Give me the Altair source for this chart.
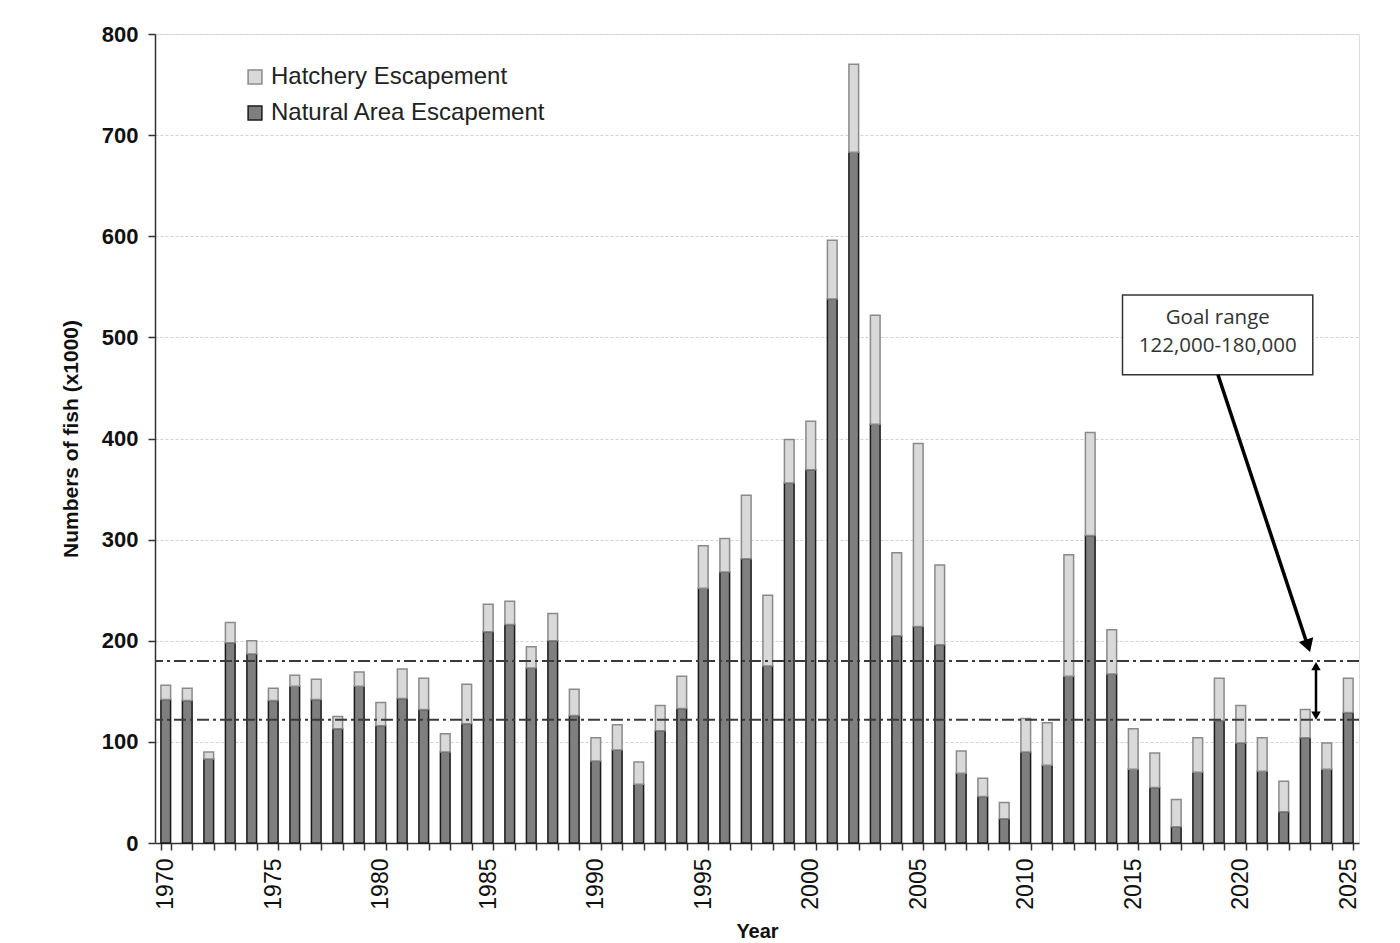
import altair as alt
import pandas as pd

years = list(range(1970, 2026))
natural = [142, 141, 83, 198, 187, 141, 155, 142, 113, 155,
           116, 143, 132, 90, 118, 209, 216, 173, 200, 126,
           81, 92, 58, 111, 133, 252, 268, 281, 175, 356,
           369, 538, 683, 414, 205, 214, 196, 69, 46, 24,
           90, 77, 165, 304, 167, 73, 55, 16, 70, 121,
           99, 71, 31, 104, 73, 129]
total = [156, 153, 90, 218, 200, 153, 166, 162, 125, 169,
         139, 172, 163, 108, 157, 236, 239, 194, 227, 152,
         104, 117, 80, 136, 165, 294, 301, 344, 245, 399,
         417, 596, 770, 522, 287, 395, 275, 91, 64, 40,
         123, 119, 285, 406, 211, 113, 89, 43, 104, 163,
         136, 104, 61, 132, 99, 163]
series_names = ["Hatchery Escapement", "Natural Area Escapement"]
goal_values = [122, 180]
goal_text = ["Goal range", "122,000-180,000"]

rows = []
for y, n, t in zip(years, natural, total):
    rows.append({"year": y, "series": series_names[1], "start": 0, "end": n})
    rows.append({"year": y, "series": series_names[0], "start": n, "end": t})
df = pd.DataFrame(rows)

FONT = "Liberation Sans"
ydom = [0, 800]
xq = alt.Scale(domain=[1969.5, 2025.5], nice=False, zero=False)
yscale = alt.Scale(domain=ydom, nice=False)

legend = alt.Legend(
    title=None, orient="none", legendX=88, legendY=31,
    symbolType="square", symbolSize=190, symbolStrokeWidth=1.5,
    labelFontSize=24, labelFont=FONT, labelColor="#222", labelOffset=4,
    labelLimit=0, rowPadding=12,
)

bars = alt.Chart(df).mark_bar(strokeWidth=1.5).encode(
    x=alt.X("year:O",
            scale=alt.Scale(paddingInner=0.55, paddingOuter=0.275),
            axis=alt.Axis(title="Year", labelAngle=270, labelFontSize=23,
                          labelFont=FONT, labelColor="#111",
                          labelExpr="datum.value % 5 === 0 ? datum.label : ''",
                          tickBand="extent", tickSize=7, tickColor="#333",
                          tickWidth=1.5, domainColor="#333", domainWidth=1.5,
                          labelPadding=8, titleFontSize=20, titleFont=FONT,
                          titleFontWeight="bold", titleColor="#111",
                          titlePadding=12, grid=False)),
    y=alt.Y("start:Q", scale=yscale,
            axis=alt.Axis(title="Numbers of fish (x1000)", values=list(range(0, 801, 100)),
                          labelFontSize=22, labelFontWeight="bold", labelFont=FONT,
                          labelColor="#111", labelFlush=False, labelPadding=10,
                          tickSize=7, tickColor="#333", tickWidth=1.5,
                          domainColor="#333", domainWidth=1.5,
                          titleFontSize=21, titleFont=FONT, titleFontWeight="bold",
                          titleColor="#111", titlePadding=20,
                          grid=True, gridColor="#d2d2d2", gridDash=[3, 2], gridWidth=1)),
    y2="end:Q",
    fill=alt.Fill("series:N", scale=alt.Scale(domain=series_names, range=["#d9d9d9", "#7f7f7f"]),
                  legend=legend),
    stroke=alt.Stroke("series:N", scale=alt.Scale(domain=series_names, range=["#8a8a8a", "#1a1a1a"]),
                      legend=legend),
)

goal_df = pd.DataFrame({"goal": goal_values})
goals = alt.Chart(goal_df).mark_rule(color="#3a3a3a", strokeWidth=2, strokeDash=[12, 4, 3, 4]).encode(
    y=alt.Y("goal:Q", scale=yscale)
)

# annotation box
box_df = pd.DataFrame({"x": [2014.5], "x2": [2023.35], "y": [463], "y2": [542]})
box = alt.Chart(box_df).mark_rect(fill="white", stroke="#333", strokeWidth=1.5).encode(
    x=alt.X("x:Q", scale=xq, axis=None), x2="x2:Q",
    y=alt.Y("y:Q", scale=yscale), y2="y2:Q",
)
txt_df = pd.DataFrame({"x": [2018.93, 2018.93], "y": [519, 491], "t": goal_text})
txt = alt.Chart(txt_df).mark_text(font="Open Sans", fontSize=20.5, color="#333").encode(
    x=alt.X("x:Q", scale=xq, axis=None),
    y=alt.Y("y:Q", scale=yscale), text="t:N",
)

# long pointer arrow
arr_df = pd.DataFrame({"x": [2018.94], "x2": [2023.1], "y": [463], "y2": [196]})
arr = alt.Chart(arr_df).mark_rule(color="black", strokeWidth=3.5).encode(
    x=alt.X("x:Q", scale=xq, axis=None), x2="x2:Q",
    y=alt.Y("y:Q", scale=yscale), y2="y2:Q",
)
head_df = pd.DataFrame({"x": [2023.13], "y": [195]})
head = alt.Chart(head_df).mark_point(shape="triangle-up", filled=True, color="black",
                                     opacity=1, size=230, angle=162).encode(
    x=alt.X("x:Q", scale=xq, axis=None), y=alt.Y("y:Q", scale=yscale)
)

# double arrow between goal lines
dbl_df = pd.DataFrame({"x": [2023.5], "y": [174], "y2": [127]})
dbl = alt.Chart(dbl_df).mark_rule(color="black", strokeWidth=2.5).encode(
    x=alt.X("x:Q", scale=xq, axis=None),
    y=alt.Y("y:Q", scale=yscale), y2="y2:Q",
)
dh_df = pd.DataFrame({"x": [2023.5, 2023.5], "y": [175, 126], "s": ["triangle-up", "triangle-down"]})
dheads = alt.Chart(dh_df).mark_point(filled=True, color="black", opacity=1, size=90).encode(
    x=alt.X("x:Q", scale=xq, axis=None), y=alt.Y("y:Q", scale=yscale),
    shape=alt.Shape("s:N", scale=None, legend=None),
)

chart = alt.layer(bars, goals, box, txt, arr, head, dbl, dheads).resolve_scale(
    x="independent"
).properties(
    width=1204, height=809,
    padding={"left": 52, "top": 15, "right": 5, "bottom": 5},
).configure_view(
    stroke="#333", strokeWidth=1.5
).configure(font=FONT, background="white")

chart.save("out.html", embed_options={"renderer": "svg", "actions": False})
